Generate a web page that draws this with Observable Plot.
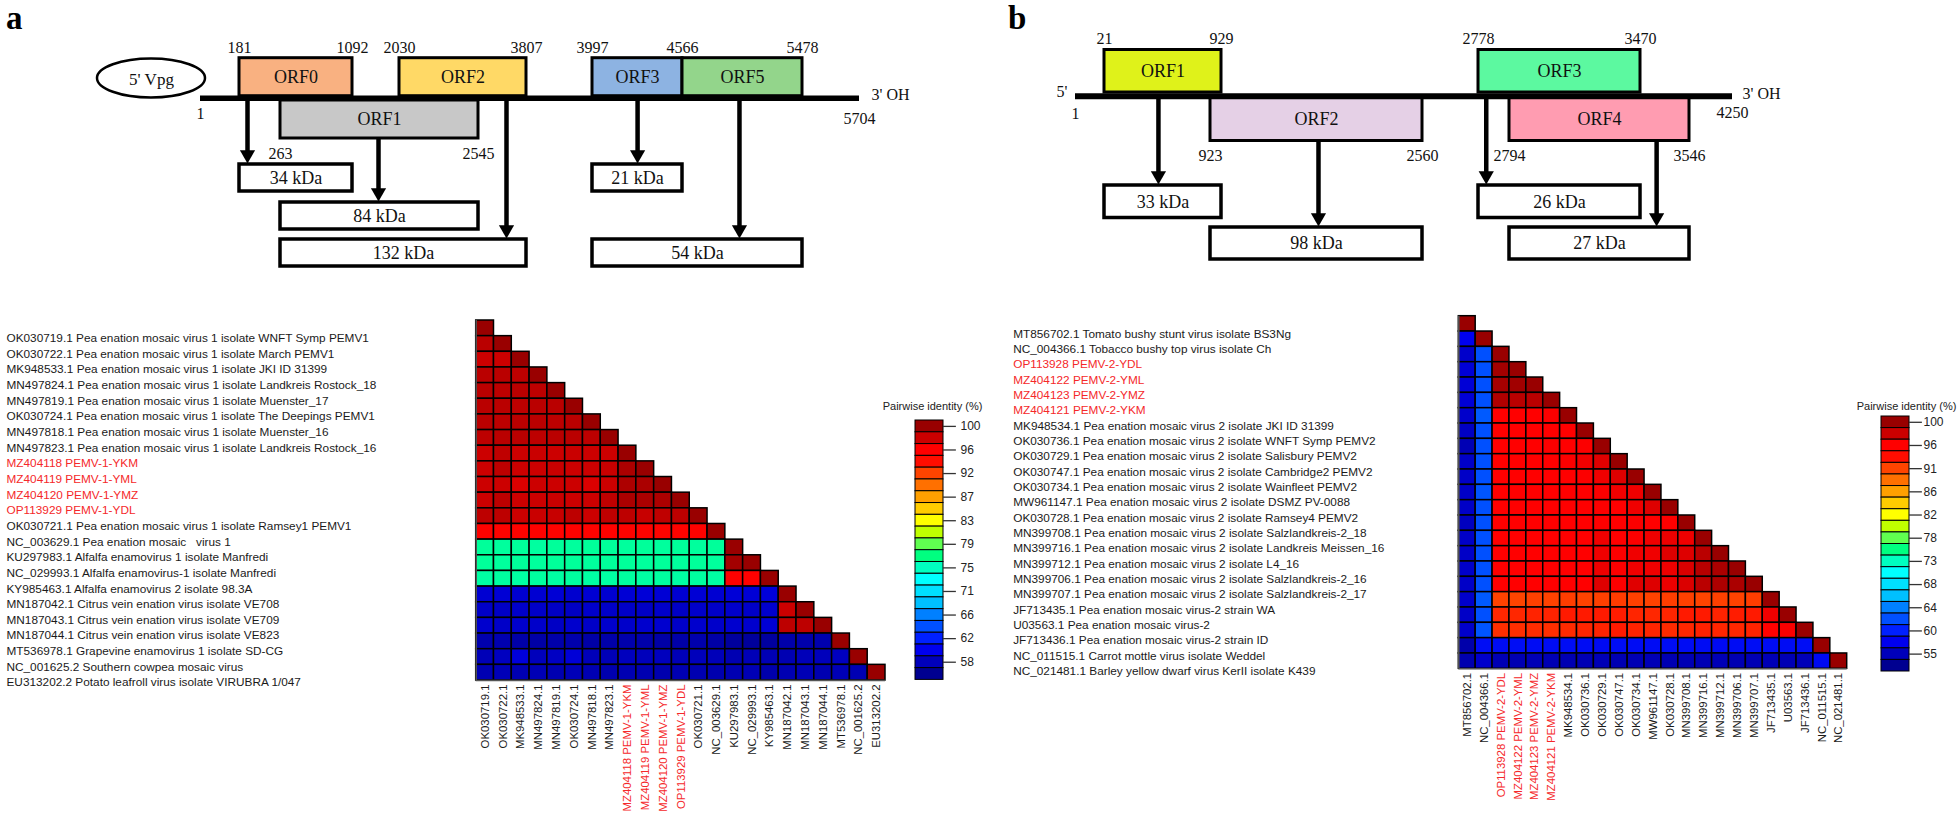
<!DOCTYPE html>
<html><head><meta charset="utf-8">
<script src="https://cdn.jsdelivr.net/npm/d3@7"></script>
<script src="https://cdn.jsdelivr.net/npm/@observablehq/plot@0.6"></script>
<style>
html,body{margin:0;padding:0;background:#fff;}
#root{position:relative;width:1960px;height:818px;overflow:hidden;background:#fff;}
.panel{position:absolute;}
.panel svg{overflow:visible;max-width:none;}
.tag{position:absolute;font-family:"Liberation Serif","Times New Roman",serif;font-weight:bold;font-size:33px;line-height:normal;}
svg text{white-space:pre;}
</style></head><body><div id="root"></div>
<script>
// ================= DATA =================
// ---- Panel a: PEMV-1 genome organisation (nt positions) ----
const genomeLenA = 5704;
const orfNameA  = ["ORF0", "ORF1", "ORF2", "ORF3", "ORF5"];
const orfStartA = [181, 263, 2030, 3997, 4566];
const orfEndA   = [1092, 2545, 3807, 4566, 5478];
const orfSideA  = ["above", "below", "above", "above", "above"];
const orfColorA = ["#F9B181", "#C8C8C8", "#FFD966", "#8DB3E2", "#93D58B"];
const protNameA   = ["34 kDa", "84 kDa", "132 kDa", "21 kDa", "54 kDa"];
const protStartA  = [181, 263, 263, 3997, 3997];
const protEndA    = [1092, 2545, 3807, 4566, 5478];
const protTierA   = [1, 2, 3, 1, 3];
const protArrowA  = [197, 1611, 3281, 4282, 4999];
const protSourceA = ["line", "below", "line", "line", "line"];

// ---- Panel b: PEMV-2 genome organisation ----
const genomeLenB = 4250;
const orfNameB  = ["ORF1", "ORF2", "ORF3", "ORF4"];
const orfStartB = [21, 923, 2778, 2794];
const orfEndB   = [929, 2560, 3470, 3546];
const orfSideB  = ["above", "below", "above", "below"];
const orfColorB = ["#DFF21A", "#E5D0E6", "#5CF9A0", "#FF9CB1"];
const protNameB   = ["33 kDa", "98 kDa", "26 kDa", "27 kDa"];
const protStartB  = [21, 923, 2778, 2794];
const protEndB    = [929, 2560, 3470, 3546];
const protTierB   = [1, 2, 1, 2];
const protArrowB  = [480, 1716, 2782, 3495];
const protSourceB = ["line", "below", "line", "below"];

// ---- Heatmap a: pairwise identity (%) lower triangle ----
const labelsA = [
  "OK030719.1 Pea enation mosaic virus 1 isolate WNFT Symp PEMV1",
  "OK030722.1 Pea enation mosaic virus 1 isolate March PEMV1",
  "MK948533.1 Pea enation mosaic virus 1 isolate JKI ID 31399",
  "MN497824.1 Pea enation mosaic virus 1 isolate Landkreis Rostock_18",
  "MN497819.1 Pea enation mosaic virus 1 isolate Muenster_17",
  "OK030724.1 Pea enation mosaic virus 1 isolate The Deepings PEMV1",
  "MN497818.1 Pea enation mosaic virus 1 isolate Muenster_16",
  "MN497823.1 Pea enation mosaic virus 1 isolate Landkreis Rostock_16",
  "MZ404118 PEMV-1-YKM",
  "MZ404119 PEMV-1-YML",
  "MZ404120 PEMV-1-YMZ",
  "OP113929 PEMV-1-YDL",
  "OK030721.1 Pea enation mosaic virus 1 isolate Ramsey1 PEMV1",
  "NC_003629.1 Pea enation mosaic   virus 1",
  "KU297983.1 Alfalfa enamovirus 1 isolate Manfredi",
  "NC_029993.1 Alfalfa enamovirus-1 isolate Manfredi",
  "KY985463.1 Alfalfa enamovirus 2 isolate 98.3A",
  "MN187042.1 Citrus vein enation virus isolate VE708",
  "MN187043.1 Citrus vein enation virus isolate VE709",
  "MN187044.1 Citrus vein enation virus isolate VE823",
  "MT536978.1 Grapevine enamovirus 1 isolate SD-CG",
  "NC_001625.2 Southern cowpea mosaic virus",
  "EU313202.2 Potato leafroll virus isolate VIRUBRA 1/047"
];
const colLabelsA = ["OK030719.1","OK030722.1","MK948533.1","MN497824.1","MN497819.1","OK030724.1","MN497818.1","MN497823.1","MZ404118 PEMV-1-YKM","MZ404119 PEMV-1-YML","MZ404120 PEMV-1-YMZ","OP113929 PEMV-1-YDL","OK030721.1","NC_003629.1","KU297983.1","NC_029993.1","KY985463.1","MN187042.1","MN187043.1","MN187044.1","MT536978.1","NC_001625.2","EU313202.2"];
const highlightA = [8, 9, 10, 11];
const identityA = [
  [100],
  [98.7, 100],
  [98.0, 98.0, 100],
  [98.7, 98.7, 98.6, 100],
  [98.7, 98.6, 98.7, 98.6, 100],
  [98.7, 98.7, 98.6, 98.7, 98.7, 100],
  [98.7, 98.6, 98.7, 98.7, 98.6, 98.7, 100],
  [98.6, 98.7, 98.7, 98.6, 98.7, 98.7, 98.6, 100],
  [98.0, 98.5, 98.0, 98.1, 98.0, 98.1, 98.0, 98.0, 100],
  [98.0, 98.6, 98.0, 98.0, 98.1, 98.0, 98.0, 98.1, 99.3, 100],
  [98.0, 98.0, 97.4, 98.0, 98.0, 98.0, 97.4, 98.0, 99.2, 99.3, 100],
  [98.0, 98.6, 98.0, 98.0, 98.1, 98.0, 98.0, 98.5, 99.3, 99.3, 99.2, 100],
  [98.6, 98.6, 98.0, 98.1, 98.2, 98.6, 98.0, 98.5, 98.6, 98.2, 98.5, 98.6, 100],
  [95.7, 95.6, 95.5, 95.7, 95.6, 95.7, 95.6, 95.7, 95.5, 95.6, 95.4, 95.6, 95.7, 100],
  [76.2, 76.1, 76.2, 76.0, 76.2, 76.1, 76.2, 76.2, 76.1, 76.2, 76.1, 76.2, 76.1, 76.2, 100],
  [76.2, 76.1, 76.2, 76.1, 76.2, 76.2, 76.1, 76.2, 76.2, 76.1, 76.2, 76.1, 76.2, 76.1, 99.6, 100],
  [75.9, 76.0, 75.9, 76.0, 75.9, 76.0, 75.9, 75.9, 76.0, 75.9, 76.0, 75.9, 76.0, 75.9, 95.8, 95.8, 100],
  [58.9, 59.0, 58.8, 58.9, 59.0, 58.8, 58.9, 58.8, 59.0, 59.1, 59.0, 58.9, 59.0, 58.9, 59.1, 59.0, 59.2, 100],
  [58.5, 58.4, 58.6, 58.5, 58.4, 58.3, 58.6, 58.5, 58.5, 58.4, 58.6, 58.4, 58.6, 58.5, 58.6, 58.5, 58.7, 98.0, 100],
  [58.7, 58.5, 58.7, 58.6, 58.4, 58.7, 58.5, 58.7, 58.6, 58.7, 58.8, 58.5, 58.7, 58.6, 58.8, 58.7, 59.0, 98.6, 98.6, 100],
  [57.4, 57.5, 57.1, 57.0, 57.2, 57.3, 57.0, 57.2, 57.3, 57.2, 57.0, 57.1, 57.3, 57.0, 56.6, 56.5, 56.7, 57.2, 57.3, 57.4, 100],
  [57.8, 58.2, 59.2, 58.0, 58.3, 59.1, 57.9, 57.8, 58.1, 58.0, 58.1, 57.8, 58.0, 57.9, 57.6, 57.8, 57.7, 57.6, 57.9, 58.0, 58.2, 100],
  [57.6, 57.8, 57.6, 57.7, 57.5, 57.8, 57.6, 57.4, 57.6, 57.5, 57.4, 57.6, 57.5, 57.4, 57.6, 57.7, 57.3, 57.6, 57.7, 57.5, 57.8, 57.6, 100]
];
const legendTicksA = [100, 96, 92, 87, 83, 79, 75, 71, 66, 62, 58];

// ---- Heatmap b ----
const labelsB = [
  "MT856702.1 Tomato bushy stunt virus isolate BS3Ng",
  "NC_004366.1 Tobacco bushy top virus isolate Ch",
  "OP113928 PEMV-2-YDL",
  "MZ404122 PEMV-2-YML",
  "MZ404123 PEMV-2-YMZ",
  "MZ404121 PEMV-2-YKM",
  "MK948534.1 Pea enation mosaic virus 2 isolate JKI ID 31399",
  "OK030736.1 Pea enation mosaic virus 2 isolate WNFT Symp PEMV2",
  "OK030729.1 Pea enation mosaic virus 2 isolate Salisbury PEMV2",
  "OK030747.1 Pea enation mosaic virus 2 isolate Cambridge2 PEMV2",
  "OK030734.1 Pea enation mosaic virus 2 isolate Wainfleet PEMV2",
  "MW961147.1 Pea enation mosaic virus 2 isolate DSMZ PV-0088",
  "OK030728.1 Pea enation mosaic virus 2 isolate Ramsey4 PEMV2",
  "MN399708.1 Pea enation mosaic virus 2 isolate Salzlandkreis-2_18",
  "MN399716.1 Pea enation mosaic virus 2 isolate Landkreis Meissen_16",
  "MN399712.1 Pea enation mosaic virus 2 isolate L4_16",
  "MN399706.1 Pea enation mosaic virus 2 isolate Salzlandkreis-2_16",
  "MN399707.1 Pea enation mosaic virus 2 isolate Salzlandkreis-2_17",
  "JF713435.1 Pea enation mosaic virus-2 strain WA",
  "U03563.1 Pea enation mosaic virus-2",
  "JF713436.1 Pea enation mosaic virus-2 strain ID",
  "NC_011515.1 Carrot mottle virus isolate Weddel",
  "NC_021481.1 Barley yellow dwarf virus KerII isolate K439"
];
const colLabelsB = ["MT856702.1","NC_004366.1","OP113928 PEMV-2-YDL","MZ404122 PEMV-2-YML","MZ404123 PEMV-2-YMZ","MZ404121 PEMV-2-YKM","MK948534.1","OK030736.1","OK030729.1","OK030747.1","OK030734.1","MW961147.1","OK030728.1","MN399708.1","MN399716.1","MN399712.1","MN399706.1","MN399707.1","JF713435.1","U03563.1","JF713436.1","NC_011515.1","NC_021481.1"];
const highlightB = [2, 3, 4, 5];
const identityB = [
  [100],
  [57.6, 100],
  [55.8, 62.0, 100],
  [56.3, 62.0, 99.6, 100],
  [56.3, 62.0, 99.5, 99.7, 100],
  [56.3, 62.0, 99.1, 98.7, 98.7, 100],
  [55.8, 62.4, 96.0, 96.0, 96.0, 96.1, 100],
  [55.4, 62.0, 96.0, 96.0, 96.0, 96.0, 96.0, 100],
  [54.6, 62.0, 96.0, 96.0, 96.0, 96.1, 96.0, 96.1, 100],
  [55.6, 62.0, 96.0, 96.0, 96.0, 96.0, 96.1, 96.6, 97.2, 100],
  [55.6, 62.0, 96.0, 96.0, 96.0, 96.0, 96.0, 96.1, 96.6, 97.3, 100],
  [55.6, 62.2, 96.0, 96.0, 96.0, 96.0, 96.0, 96.0, 96.1, 96.5, 96.6, 100],
  [55.6, 62.0, 96.0, 96.0, 96.0, 96.0, 96.0, 96.0, 96.1, 96.0, 96.6, 97.3, 100],
  [55.2, 62.0, 96.0, 96.0, 96.0, 96.0, 96.0, 96.0, 96.0, 96.0, 96.1, 96.0, 96.0, 100],
  [55.6, 62.0, 96.0, 96.0, 96.0, 96.0, 96.0, 96.0, 96.6, 96.0, 96.1, 96.6, 96.7, 96.6, 100],
  [55.6, 62.0, 96.0, 96.0, 96.0, 96.0, 96.0, 96.0, 96.6, 96.1, 96.6, 96.6, 97.3, 97.3, 98.7, 100],
  [55.7, 62.0, 96.0, 96.0, 96.0, 96.0, 96.0, 96.0, 96.7, 96.1, 96.6, 96.6, 96.7, 97.4, 98.8, 99.3, 100],
  [55.6, 62.0, 96.0, 96.0, 96.0, 96.0, 96.0, 96.0, 97.3, 96.1, 97.2, 97.3, 96.7, 97.4, 98.7, 99.2, 99.3, 100],
  [55.8, 62.4, 91.1, 91.0, 91.2, 91.1, 91.3, 91.1, 91.2, 91.4, 91.2, 91.1, 91.3, 91.2, 91.0, 91.2, 91.1, 91.3, 100],
  [55.6, 62.0, 92.3, 92.3, 92.5, 92.5, 92.9, 92.9, 92.9, 92.8, 92.4, 92.3, 92.4, 92.9, 92.9, 92.5, 92.8, 92.9, 96.6, 100],
  [55.8, 62.2, 92.0, 92.0, 92.1, 92.0, 92.2, 92.4, 92.5, 92.9, 92.5, 92.4, 92.2, 92.3, 92.6, 92.4, 92.3, 92.5, 95.9, 96.2, 100],
  [54.0, 58.5, 58.4, 58.5, 58.4, 58.4, 58.5, 58.4, 58.3, 58.5, 58.4, 58.4, 58.5, 58.4, 58.4, 58.3, 58.4, 58.5, 58.4, 58.4, 58.5, 100],
  [54.3, 55.8, 54.6, 54.5, 54.7, 54.6, 54.5, 54.6, 54.7, 54.5, 54.6, 54.7, 54.5, 54.6, 54.6, 54.7, 54.5, 54.6, 54.7, 54.6, 54.8, 58.2, 100]
];
const legendTicksB = [100, 96, 91, 86, 82, 78, 73, 68, 64, 60, 55];

// colour ramp of the identity legend (top = highest identity)
const palette = ["#990000","#CC0000","#FF0000","#FF0D00","#FF4400","#FF7000","#FFA000","#FFCC00","#FFFF00","#C0FF00","#60FF50","#00FF80","#00FFC0","#00FFFF","#00E0FF","#00C0FF","#0080FF","#0050FF","#0020FF","#0000EE","#0000BB","#000090"];
const legendTitle = "Pairwise identity (%)";

// ================= RENDERING =================
const root = document.getElementById("root");
function place(node, left, top) {
  const d = document.createElement("div");
  d.className = "panel"; d.style.left = left + "px"; d.style.top = top + "px";
  d.appendChild(node); root.appendChild(d);
}
function tag(text, left, top) {
  const d = document.createElement("div");
  d.className = "tag"; d.textContent = text; d.style.left = left + "px"; d.style.top = top + "px";
  root.appendChild(d);
}
const SERIF = "'Liberation Serif','Times New Roman',serif";
const SANS = "'Liberation Sans',Arial,Helvetica,sans-serif";

const downHead = {
  draw(ctx, size) {
    const r = Math.sqrt(size / Math.PI);
    ctx.moveTo(-0.95 * r, -1.65 * r);
    ctx.lineTo(0.95 * r, -1.65 * r);
    ctx.lineTo(0, 0);
    ctx.closePath();
  }
};

function genome(cfg) {
  const breakPos = d3.sort(new Set([1, ...cfg.orfStart, ...cfg.orfEnd, cfg.len]));
  const xs = d3.scaleLinear(breakPos, cfg.breakPx);
  const mid = (s, e) => xs.invert((xs(s) + xs(e)) / 2);
  const L = cfg.layout;
  const orfs = cfg.orfName.map((name, i) => ({name, start: cfg.orfStart[i], end: cfg.orfEnd[i], side: cfg.orfSide[i], color: cfg.orfColor[i]}));
  const prots = cfg.protName.map((name, i) => ({name, start: cfg.protStart[i], end: cfg.protEnd[i], tier: cfg.protTier[i], at: cfg.protArrow[i], src: cfg.protSource[i]}));
  const posLabels = [];
  const seen = new Set();
  for (const o of orfs) for (const p of [o.start, o.end]) {
    const k = o.side + p; if (seen.has(k)) continue; seen.add(k);
    posLabels.push({pos: p, y: o.side === "above" ? L.above[0] - L.aboveLab(o) : L.below[1] + 15});
  }
  const ends = [{pos: 1, y: L.endY[0]}, {pos: cfg.len, y: L.endY[1]}];
  const marks = [
    Plot.rect(orfs, {x1: "start", x2: "end", y1: d => L[d.side][0], y2: d => L[d.side][1], fill: "color", stroke: "#000", strokeWidth: 3}),
    Plot.ruleY([L.lineY], {x1: 1, x2: cfg.len, stroke: "#000", strokeWidth: L.lineW}),
    Plot.text(orfs, {x: d => mid(d.start, d.end), y: d => (L[d.side][0] + L[d.side][1]) / 2, text: "name", fontSize: 18, fill: "#111"}),
    Plot.text(posLabels, {x: "pos", y: "y", text: d => String(d.pos), fontSize: 16, fill: "#111"}),
    Plot.text(ends, {x: "pos", y: "y", text: d => String(d.pos), fontSize: 16, fill: "#111"}),
    Plot.ruleX(prots, {x: "at", y1: d => L.src[d.src], y2: d => L.tiers[d.tier][0] - 8, stroke: "#000", strokeWidth: 4.5}),
    Plot.dot(prots, {x: "at", y: d => L.tiers[d.tier][0] - 1, symbol: downHead, r: 8, fill: "#000"}),
    Plot.rect(prots, {x1: "start", x2: "end", y1: d => L.tiers[d.tier][0], y2: d => L.tiers[d.tier][1], fill: "#fff", stroke: "#000", strokeWidth: 3.5}),
    Plot.text(prots, {x: d => mid(d.start, d.end), y: d => (L.tiers[d.tier][0] + L.tiers[d.tier][1]) / 2, text: "name", fontSize: 18, fill: "#111"}),
    Plot.text(["3' OH"], {x: cfg.len, y: L.ohY, dx: L.ohDx, textAnchor: "start", fontSize: 16, fill: "#111"}),
    Plot.text([cfg.fiveLabel], {x: 1, y: L.fiveY, dx: L.fiveDx, textAnchor: L.fiveAnchor, fontSize: L.fiveSize, fill: "#111"})
  ];
  if (L.ellipse) {
    marks.push((index, scales) => {
      const e = d3.create("svg:ellipse")
        .attr("cx", scales.x(1) + L.ellipse.dx).attr("cy", scales.y(L.ellipse.cy))
        .attr("rx", L.ellipse.rx).attr("ry", L.ellipse.ry)
        .attr("fill", "none").attr("stroke", "#000").attr("stroke-width", 2.5);
      return e.node();
    });
  }
  return Plot.plot({
    width: cfg.width, height: cfg.height, margin: 0,
    x: {type: "linear", domain: breakPos, range: cfg.breakPx, axis: null},
    y: {type: "linear", domain: [0, cfg.height], range: [0, cfg.height], axis: null},
    color: {type: "identity"},
    style: {fontFamily: SERIF, overflow: "visible", background: "transparent", maxWidth: "none"},
    marks
  });
}

function binCenters(ticks) {
  const c = [];
  ticks.forEach((t, k) => {
    c.push(t);
    const next = k + 1 < ticks.length ? ticks[k + 1] : t - (ticks[k - 1] - t);
    c.push((t + next) / 2);
  });
  return c;
}
function colorScale(ticks) {
  const stops = binCenters(ticks);
  return {type: "linear", domain: stops.slice().reverse(), range: palette.slice().reverse(), interpolate: "rgb", clamp: true};
}

function heatmap(cfg) {
  const n = cfg.labels.length;
  const cells = cfg.identity.flatMap((row, i) => row.map((v, j) => ({row: i, col: j, v})));
  const rows = cfg.labels.map((label, i) => ({label, i, hot: cfg.highlight.includes(i)}));
  const cols = cfg.colLabels.map((label, i) => ({label, i, hot: cfg.highlight.includes(i)}));
  const rowText = (data, fill) => Plot.text(data, {y: d => d.i + 0.5, text: "label", frameAnchor: "left", textAnchor: "start", dx: cfg.labelDx, dy: 10, fontSize: 11.8, fill});
  const colText = (data, fill) => Plot.text(data, {x: d => d.i + 0.5, y: n, text: "label", rotate: -90, textAnchor: "end", dy: 4, fontSize: 11.4, fill});
  return Plot.plot({
    width: cfg.width, height: cfg.height, margin: 0,
    x: {type: "linear", domain: [0, n], range: cfg.xRange, axis: null},
    y: {type: "linear", domain: [0, n], range: cfg.yRange, axis: null},
    color: colorScale(cfg.ticks),
    style: {fontFamily: SANS, overflow: "visible", background: "transparent", maxWidth: "none"},
    marks: [
      Plot.rect(cells, {x1: "col", x2: d => d.col + 1, y1: "row", y2: d => d.row + 1, fill: "v", stroke: "#000", strokeWidth: 1.5}),
      Plot.ruleX([0], {y1: 0, y2: n, stroke: "#555", strokeWidth: 1.5}),
      Plot.ruleY([n], {x1: 0, x2: n, stroke: "#555", strokeWidth: 1.5}),
      rowText(rows.filter(d => !d.hot), "#1a1a1a"),
      rowText(rows.filter(d => d.hot), "#f5282a"),
      colText(cols.filter(d => !d.hot), "#1a1a1a"),
      colText(cols.filter(d => d.hot), "#f5282a")
    ]
  });
}

function legend(cfg) {
  const stops = binCenters(cfg.ticks);
  const bins = stops.map((v, i) => ({i, v}));
  const tickBins = cfg.ticks.map((t, k) => ({i: 2 * k, t}));
  return Plot.plot({
    width: cfg.width, height: 300, margin: 0,
    x: {type: "linear", domain: [0, 1], range: cfg.barX, axis: null},
    y: {type: "linear", domain: [0, stops.length], range: cfg.barY, axis: null},
    color: colorScale(cfg.ticks),
    style: {fontFamily: SANS, overflow: "visible", background: "transparent", maxWidth: "none"},
    marks: [
      Plot.rect(bins, {x1: 0, x2: 1, y1: "i", y2: d => d.i + 1, fill: "v", stroke: "#000", strokeWidth: 1}),
      Plot.ruleY(tickBins, {y: d => d.i + 0.5, x1: 1, x2: 1.46, stroke: "#333", strokeWidth: 1.3}),
      Plot.text(tickBins, {x: 1, y: d => d.i + 0.5, text: d => String(d.t), dx: cfg.tickDx, textAnchor: "start", fontSize: 12, fill: "#222"}),
      Plot.text([legendTitle], {x: 0.5, frameAnchor: "top", dy: 12, dx: cfg.titleDx, fontSize: 11, fill: "#222"})
    ]
  });
}

// ---- panel a ----
place(genome({
  width: 900, height: 280, len: genomeLenA,
  orfName: orfNameA, orfStart: orfStartA, orfEnd: orfEndA, orfSide: orfSideA, orfColor: orfColorA,
  protName: protNameA, protStart: protStartA, protEnd: protEndA, protTier: protTierA, protArrow: protArrowA, protSource: protSourceA,
  breakPx: [200, 239, 280, 352, 399, 478, 526, 592, 682, 802, 859],
  fiveLabel: "5' Vpg",
  layout: {
    lineY: 97.7, lineW: 5.5, above: [57.7, 95.7], below: [100, 138],
    aboveLab: () => 10,
    tiers: {1: [164, 191], 2: [202, 229], 3: [239, 266]},
    src: {line: 100, below: 138},
    endY: [113, 118], ohY: 94, ohDx: 12,
    fiveY: 79, fiveDx: -49, fiveAnchor: "middle", fiveSize: 17,
    ellipse: {dx: -49, cy: 78, rx: 54, ry: 19.5}
  }
}), 0, 0);

place(heatmap({
  width: 900, height: 518, labels: labelsA, colLabels: colLabelsA, highlight: highlightA,
  identity: identityA, ticks: legendTicksA,
  xRange: [475.7, 885], yRange: [20, 380], labelDx: 6
}), 0, 300);

place(legend({width: 130, ticks: legendTicksA, barX: [45, 73], barY: [30, 289.4], tickDx: 17, titleDx: 3}), 870, 390);

// ---- panel b ----
place(genome({
  width: 960, height: 270, len: genomeLenB,
  orfName: orfNameB, orfStart: orfStartB, orfEnd: orfEndB, orfSide: orfSideB, orfColor: orfColorB,
  protName: protNameB, protStart: protStartB, protEnd: protEndB, protTier: protTierB, protArrow: protArrowB, protSource: protSourceB,
  breakPx: [75, 104, 210, 221, 422, 478, 509, 640, 689, 732],
  fiveLabel: "5'",
  layout: {
    lineY: 95.7, lineW: 6, above: [49.5, 92], below: [97, 140.5],
    aboveLab: () => 11,
    tiers: {1: [185, 217.5], 2: [227, 259]},
    src: {line: 98.7, below: 140.5},
    endY: [113, 112], ohY: 93, ohDx: 10,
    fiveY: 91, fiveDx: -8, fiveAnchor: "end", fiveSize: 16
  }
}), 1000, 0);

place(heatmap({
  width: 960, height: 518, labels: labelsB, colLabels: colLabelsB, highlight: highlightB,
  identity: identityB, ticks: legendTicksB,
  xRange: [458.3, 846.7], yRange: [15.7, 368.3], labelDx: 12.7
}), 1000, 300);

place(legend({width: 120, ticks: legendTicksB, barX: [41, 69], barY: [26, 281], tickDx: 14, titleDx: 11}), 1840, 390);

tag("a", 6, 0);
tag("b", 1008, 0);
</script>
</body></html>
